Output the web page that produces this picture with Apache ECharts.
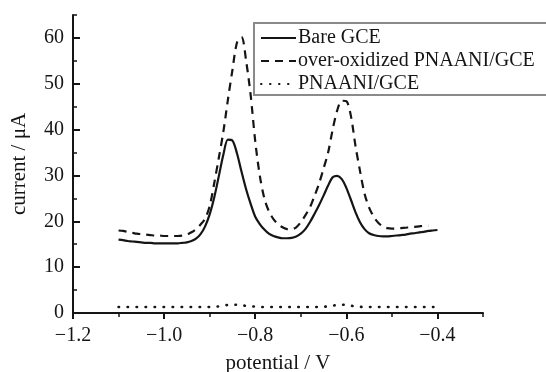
<!DOCTYPE html>
<html><head><meta charset="utf-8">
<script src="https://cdn.jsdelivr.net/npm/echarts@6/dist/echarts.min.js"></script>
<style>html,body{margin:0;padding:0;background:#fff}#c{width:546px;height:372px}</style>
</head><body><div id="c"></div>
<script>
// potential (V)
const potential = [
  -1.10,-1.09,-1.08,-1.07,-1.06,-1.05,-1.04,-1.03,-1.02,-1.01,
  -1.00,-0.99,-0.98,-0.97,-0.96,-0.95,-0.94,-0.93,-0.92,-0.91,
  -0.90,-0.89,-0.88,-0.87,-0.86,-0.85,-0.84,-0.83,-0.82,-0.81,
  -0.80,-0.79,-0.78,-0.77,-0.76,-0.75,-0.74,-0.73,-0.72,-0.71,
  -0.70,-0.69,-0.68,-0.67,-0.66,-0.65,-0.64,-0.63,-0.62,-0.61,
  -0.60,-0.59,-0.58,-0.57,-0.56,-0.55,-0.54,-0.53,-0.52,-0.51,
  -0.50,-0.49,-0.48,-0.47,-0.46,-0.45,-0.44,-0.43,-0.42,-0.41,
  -0.40
];
// current (µA)
const bareGCE = [
  16.0,15.9,15.7,15.6,15.5,15.4,15.3,15.3,15.2,15.2,
  15.2,15.2,15.2,15.2,15.3,15.4,15.7,16.2,17.2,18.9,
  21.5,25.2,29.8,34.5,37.8,37.6,34.8,30.8,27.0,23.8,
  21.0,19.4,18.2,17.3,16.8,16.5,16.3,16.3,16.4,16.7,
  17.3,18.3,19.8,21.6,23.5,25.6,27.8,29.6,29.9,29.2,
  27.3,24.7,22.0,19.8,18.3,17.4,17.0,16.8,16.7,16.7,
  16.8,16.9,17.0,17.1,17.3,17.4,17.6,17.7,17.9,18.0,
  18.1
];
const overOxidized = [
  18.0,17.9,17.7,17.5,17.3,17.2,17.1,17.0,16.9,16.9,
  16.8,16.8,16.8,16.8,16.9,17.1,17.6,18.3,19.3,20.6,
  23.3,28.3,33.8,39.5,46.5,53.0,59.0,60.2,55.0,47.5,
  37.5,30.0,25.0,22.2,20.5,19.4,18.7,18.3,18.3,18.7,
  19.8,21.3,23.0,25.5,28.2,31.5,35.0,40.0,44.2,46.3,
  46.2,43.0,36.5,31.0,26.0,23.0,21.0,19.7,18.9,18.5,
  18.4,18.4,18.5,18.6,18.7,18.8,18.9,19.0,19.0
];
const pnaaniGCE = [
  1.3,1.3,1.3,1.3,1.3,1.3,1.3,1.3,1.3,1.3,
  1.3,1.3,1.3,1.3,1.3,1.3,1.3,1.3,1.3,1.3,
  1.3,1.35,1.45,1.6,1.75,1.8,1.8,1.7,1.55,1.45,
  1.4,1.35,1.3,1.3,1.3,1.3,1.3,1.3,1.3,1.3,
  1.3,1.3,1.3,1.3,1.3,1.35,1.45,1.6,1.75,1.8,
  1.75,1.6,1.45,1.35,1.3,1.3,1.3,1.3,1.3,1.3,
  1.3,1.3,1.3,1.3,1.3,1.3,1.3,1.3,1.3,1.3,
  1.3
];
const seriesNames = ['Bare GCE', 'over-oxidized PNAANI/GCE', 'PNAANI/GCE'];
const xMajorTicks = [-1.2, -1.0, -0.8, -0.6, -0.4];
const yMajorTicks = [0, 10, 20, 30, 40, 50, 60];

const zip = (xs, ys) => ys.map((y, i) => [xs[i], y]);
const FONT = '"Liberation Serif", "DejaVu Serif", serif';
const INK = '#151515';
const fmt = v => (Math.abs(v) < 1e-9 ? 0 : v).toFixed(1).replace('-', '\u2212');

const chart = echarts.init(document.getElementById('c'), null, {renderer: 'canvas'});
const axisLine = {show: true, onZero: false, lineStyle: {color: INK, width: 2}};
chart.setOption({
  animation: false,
  backgroundColor: '#fff',
  grid: {left: 73, right: 63, top: 15, bottom: 59, containLabel: false, outerBoundsMode: 'none'},
  legend: {
    orient: 'vertical', left: 254, top: 23,
    itemWidth: 35, itemHeight: 14, itemGap: 3,
    padding: [5, 40, 1, 6],
    backgroundColor: '#fff', borderColor: '#8a8a8a', borderWidth: 2,
    itemStyle: {opacity: 0},
    textStyle: {fontFamily: FONT, fontSize: 20, color: INK, padding: [0, 0, 0, -3]},
    data: seriesNames
  },
  xAxis: [{
    type: 'value', min: -1.2, max: -0.3, interval: 0.2,
    axisLine,
    axisTick: {show: true, inside: false, length: 6, lineStyle: {color: INK, width: 2}},
    axisLabel: {fontFamily: FONT, fontSize: 20, color: INK, margin: 13, showMaxLabel: false,
      formatter: v => xMajorTicks.some(t => Math.abs(t - v) < 1e-6) ? fmt(v) : ''},
    splitLine: {show: false},
    name: 'potential / V', nameLocation: 'middle', nameGap: 40,
    nameTextStyle: {fontFamily: FONT, fontSize: 21, color: INK}
  }, {
    type: 'value', min: -1.2, max: -0.3, interval: 0.1, position: 'bottom',
    axisLine: {show: false},
    axisTick: {show: true, inside: false, length: 4, lineStyle: {color: INK, width: 1.5}},
    axisLabel: {show: false}, splitLine: {show: false}
  }],
  yAxis: [{
    type: 'value', min: 0, max: 65, interval: 10,
    axisLine,
    axisTick: {show: true, inside: true, length: 7, lineStyle: {color: INK, width: 2}},
    axisLabel: {fontFamily: FONT, fontSize: 20, color: INK, margin: 9, showMaxLabel: false,
      formatter: v => yMajorTicks.includes(v) ? String(v) : ''},
    splitLine: {show: false},
    name: 'current / \u03bcA', nameLocation: 'middle', nameGap: 43,
    nameTextStyle: {fontFamily: FONT, fontSize: 21, color: INK}
  }, {
    type: 'value', min: 0, max: 65, interval: 5, position: 'left', offset: 0,
    axisLine: {show: false},
    axisTick: {show: true, inside: true, length: 4, lineStyle: {color: INK, width: 1.5}},
    axisLabel: {show: false}, splitLine: {show: false}
  }],
  series: [{
    name: seriesNames[0], type: 'line', data: zip(potential, bareGCE),
    smooth: 0.3, symbol: 'none', color: INK,
    lineStyle: {color: INK, width: 2.2, type: 'solid'}
  }, {
    name: seriesNames[1], type: 'line', data: zip(potential, overOxidized),
    smooth: 0.3, symbol: 'none', color: INK,
    lineStyle: {color: INK, width: 2.2, type: [8, 6]}
  }, {
    name: seriesNames[2], type: 'line', data: zip(potential, pnaaniGCE),
    smooth: 0.3, symbol: 'none', color: INK,
    lineStyle: {color: INK, width: 2.6, type: [0.5, 8.5], cap: 'round'}
  }]
});
</script>
</body></html>
